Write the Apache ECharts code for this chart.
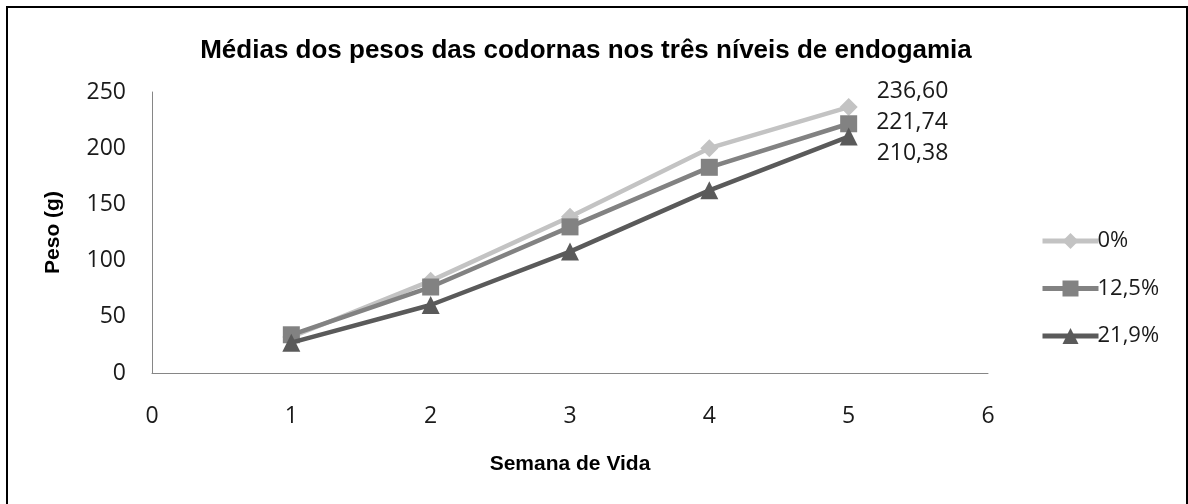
<!DOCTYPE html>
<html>
<head>
<meta charset="utf-8">
<script src="https://cdn.jsdelivr.net/npm/echarts@6/dist/echarts.min.js"></script>
<style>
html,body{margin:0;padding:0;background:#fff;}
#chart{width:1188px;height:504px;}
</style>
</head>
<body>
<div id="chart"></div>
<script>
const weeks = [1, 2, 3, 4, 5];
const seriesNames = ['0%', '12,5%', '21,9%'];
const values0 = [32, 82, 139, 200, 236.60];
const values125 = [34, 76.5, 130, 183, 221.74];
const values219 = [27, 60.5, 108, 162.5, 210.38];
const yTicks = [0, 50, 100, 150, 200, 250];
const xTicks = [0, 1, 2, 3, 4, 5, 6];

const colors = ['#c3c3c3', '#828282', '#5a5a5a'];
const symbols = ['diamond', 'rect', 'triangle'];
const symbolSizes = [18, 17, 18];
const labelOffsets = [[0, -16], [0, -1], [0, 17]];
const allValues = [values0, values125, values219];

const chart = echarts.init(document.getElementById('chart'));

function makeData(vals, idx) {
  return vals.map((v, i) => {
    if (i === vals.length - 1) {
      return {
        value: [weeks[i], v],
        label: {
          show: true,
          position: 'right',
          distance: 19,
          offset: labelOffsets[idx],
          formatter: (p) => p.value[1].toFixed(2).replace('.', ','),
          fontFamily: 'Open Sans',
          fontSize: 23,
          color: '#1a1a1a'
        }
      };
    }
    return [weeks[i], v];
  });
}

const option = {
  animation: false,
  backgroundColor: '#fff',
  title: {
    text: 'Médias dos pesos das codornas nos três níveis de endogamia',
    left: 581,
    textAlign: 'center',
    top: 33,
    textStyle: {
      fontFamily: 'Liberation Sans',
      fontWeight: 'bold',
      fontSize: 26,
      color: '#000'
    }
  },
  graphic: [{
    type: 'rect',
    shape: { x: 7, y: 7, width: 1180, height: 520 },
    style: { fill: 'none', stroke: '#000', lineWidth: 2 },
    silent: true
  }],
  legend: {
    orient: 'vertical',
    left: 1035,
    top: 225,
    itemWidth: 56,
    itemHeight: 20,
    itemGap: 25.5,
    data: seriesNames,
    lineStyle: { width: 5 },
    textStyle: {
      fontFamily: 'Open Sans',
      fontSize: 22,
      lineHeight: 22,
      color: '#1a1a1a',
      padding: [0, 0, 0, -6]
    }
  },
  grid: {
    left: 152,
    right: 200,
    top: 92,
    bottom: 131
  },
  xAxis: {
    type: 'value',
    min: 0,
    max: 6,
    interval: 1,
    name: 'Semana de Vida',
    nameLocation: 'middle',
    nameGap: 81,
    nameTextStyle: {
      fontFamily: 'Liberation Sans',
      fontWeight: 'bold',
      fontSize: 21,
      color: '#000'
    },
    axisLine: { show: true, lineStyle: { color: '#868686', width: 1 } },
    axisTick: { show: false },
    splitLine: { show: false },
    axisLabel: {
      margin: 32,
      fontFamily: 'Open Sans',
      fontSize: 23,
      color: '#1a1a1a',
      customValues: xTicks
    }
  },
  yAxis: {
    type: 'value',
    min: 0,
    max: 250,
    interval: 50,
    name: 'Peso (g)',
    nameLocation: 'middle',
    nameGap: 88,
    nameTextStyle: {
      fontFamily: 'Liberation Sans',
      fontWeight: 'bold',
      fontSize: 21,
      color: '#000'
    },
    axisLine: { show: true, lineStyle: { color: '#868686', width: 1 } },
    axisTick: { show: false },
    splitLine: { show: false },
    axisLabel: {
      margin: 26,
      fontFamily: 'Open Sans',
      fontSize: 23,
      color: '#1a1a1a',
      customValues: yTicks
    }
  },
  series: allValues.map((vals, idx) => ({
    name: seriesNames[idx],
    type: 'line',
    data: makeData(vals, idx),
    symbol: symbols[idx],
    symbolSize: symbolSizes[idx],
    showAllSymbol: true,
    lineStyle: { color: colors[idx], width: 4.5 },
    itemStyle: { color: colors[idx] },
    z: 2 + idx
  }))
};

chart.setOption(option);
</script>
</body>
</html>
